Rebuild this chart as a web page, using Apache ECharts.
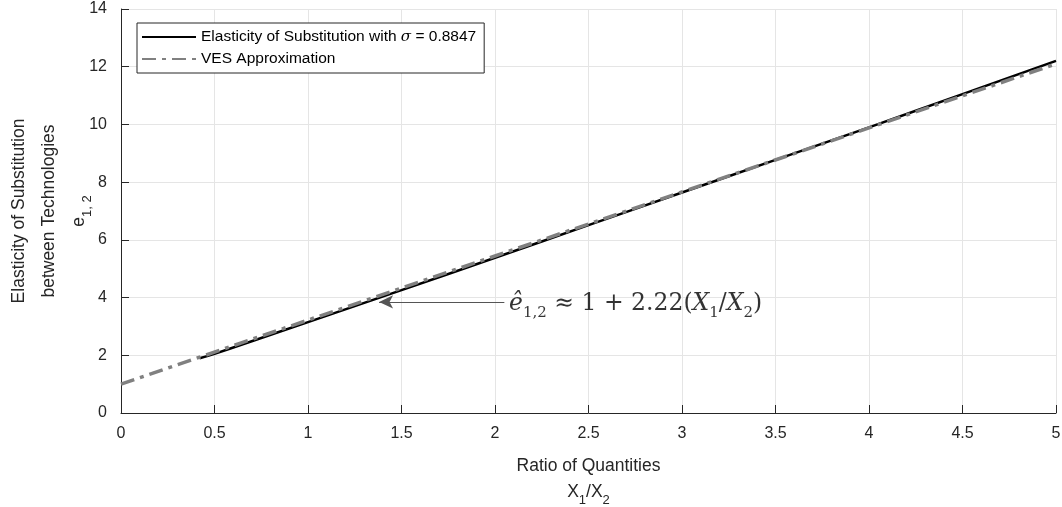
<!DOCTYPE html>
<html>
<head>
<meta charset="utf-8">
<script src="https://cdn.jsdelivr.net/npm/echarts@6/dist/echarts.min.js"></script>
<style>
  html, body { margin: 0; padding: 0; background: #fff; }
  #chart { width: 1062px; height: 507px; }
</style>
</head>
<body>
<div id="chart"></div>
<script>
// values
const xTicks = [0, 0.5, 1, 1.5, 2, 2.5, 3, 3.5, 4, 4.5, 5];
const cesX = [0.42, 0.5, 0.75, 1, 1.5, 2, 2.5, 3, 3.5, 4, 4.5, 5];
const cesY = [1.9, 2.05, 2.6, 3.15, 4.26, 5.38, 6.51, 7.64, 8.77, 9.9, 11.05, 12.2];
const vesX = [0, 1, 2, 3, 4, 5];
const vesY = [1, 3.22, 5.44, 7.66, 9.88, 12.1];
const arrowFrom = [2.05, 3.85];
const arrowTo = [1.38, 3.85];

const axisColor = "#262626";
const font = "Liberation Sans";

const chart = echarts.init(document.getElementById("chart"));

chart.setOption({
  animation: false,
  backgroundColor: "#fff",
  textStyle: { fontFamily: font },
  grid: { left: 121, right: 6, top: 9, bottom: 94, containLabel: false, outerBoundsMode: "none" },
  legend: {
    left: 137,
    top: 23,
    orient: "vertical",
    itemWidth: 54,
    itemHeight: 14,
    itemGap: 6,
    padding: [6, 8, 6, 4],
    borderColor: axisColor,
    borderWidth: 1,
    backgroundColor: "#fff",
    textStyle: {
      fontFamily: font,
      fontSize: 15.5,
      color: "#000",
      rich: {
        s: { fontFamily: "DejaVu Serif", fontStyle: "italic", fontSize: 15, color: "#000" }
      }
    },
    formatter: function (name) {
      if (name.indexOf("sigma") >= 0) return "Elasticity of Substitution with {s|σ} = 0.8847";
      return name;
    },
    data: [
      { name: "sigma", itemStyle: { opacity: 0 } },
      { name: "VES Approximation", itemStyle: { opacity: 0 } }
    ]
  },
  xAxis: {
    type: "value",
    min: 0,
    max: 5,
    interval: 0.5,
    name: "{t|Ratio of Quantities}\n{t|X}{sub|1}{t|/X}{sub|2}",
    nameLocation: "middle",
    nameGap: 44,
    nameMoveOverlap: false,
    nameTextStyle: {
      color: axisColor,
      rich: {
        t: { fontSize: 17.5, fontFamily: font, color: axisColor, lineHeight: 26, verticalAlign: "top" },
        sub: { fontSize: 13, fontFamily: font, color: axisColor, lineHeight: 15, verticalAlign: "top", padding: [11, 0, 0, 0] }
      }
    },
    axisLine: { show: true, lineStyle: { color: axisColor, width: 1 } },
    axisTick: { show: true, inside: true, length: 8, lineStyle: { color: axisColor } },
    axisLabel: {
      color: axisColor, fontSize: 16, margin: 13,
      formatter: v => String(v)
    },
    splitLine: { show: true, lineStyle: { color: "#e5e5e5", width: 1 } }
  },
  yAxis: {
    type: "value",
    min: 0,
    max: 14,
    interval: 2,
    name: "{t|Elasticity of Substitution}\n{t|between Technologies}\n{t|e}{sub|1, 2}",
    nameLocation: "middle",
    nameRotate: 90,
    nameGap: 21,
    nameMoveOverlap: false,
    nameTextStyle: {
      color: axisColor,
      rich: {
        t: { fontSize: 17.5, fontFamily: font, color: axisColor, lineHeight: 30, verticalAlign: "top" },
        sub: { fontSize: 13, fontFamily: font, color: axisColor, lineHeight: 19, verticalAlign: "top", padding: [11, 0, 0, 0] }
      }
    },
    axisLine: { show: true, lineStyle: { color: axisColor, width: 1 } },
    axisTick: { show: true, inside: true, length: 8, lineStyle: { color: axisColor } },
    axisLabel: { color: axisColor, fontSize: 16, margin: 14 },
    splitLine: { show: true, lineStyle: { color: "#e5e5e5", width: 1 } }
  },
  series: [
    {
      name: "sigma",
      type: "line",
      showSymbol: false,
      smooth: true,
      z: 2,
      data: cesX.map((x, i) => [x, cesY[i]]),
      lineStyle: { color: "#000", width: 2.5 },
      itemStyle: { color: "#000" },
      markLine: {
        silent: true,
        symbol: ["none", "arrow"],
        symbolSize: [10, 14],
        lineStyle: { color: "#555", width: 1.2, type: "solid" },
        label: { show: false },
        data: [[{ coord: arrowFrom }, { coord: arrowTo }]]
      }
    },
    {
      name: "VES Approximation",
      type: "line",
      showSymbol: false,
      z: 3,
      data: vesX.map((x, i) => [x, vesY[i]]),
      lineStyle: { color: "#808080", width: 3.5, type: [14, 6, 4, 6] },
      itemStyle: { color: "#808080" }
    },
    {
      type: "scatter",
      silent: true,
      symbolSize: 2,
      itemStyle: { color: "rgba(0,0,0,0)" },
      data: [[2.07, 3.85]],
      z: 5,
      label: {
        show: true,
        position: "right",
        distance: 0,
        offset: [0, 5],
        color: "#000",
        formatter: "{i|ê}{s|1,2}{m| ≈ 1 + 2.22(}{i|X}{s|1}{m|/}{i|X}{s|2}{m|)}",
        rich: {
          i: { fontFamily: "DejaVu Serif", fontStyle: "italic", fontSize: 23.5, color: "#000", lineHeight: 30, verticalAlign: "top" },
          m: { fontFamily: "DejaVu Serif", fontSize: 23.5, color: "#000", lineHeight: 30, verticalAlign: "top" },
          s: { fontFamily: "DejaVu Serif", fontSize: 15, color: "#000", lineHeight: 16, verticalAlign: "top", padding: [14, 0, 0, 0] }
        }
      }
    }
  ]
});
</script>
</body>
</html>
